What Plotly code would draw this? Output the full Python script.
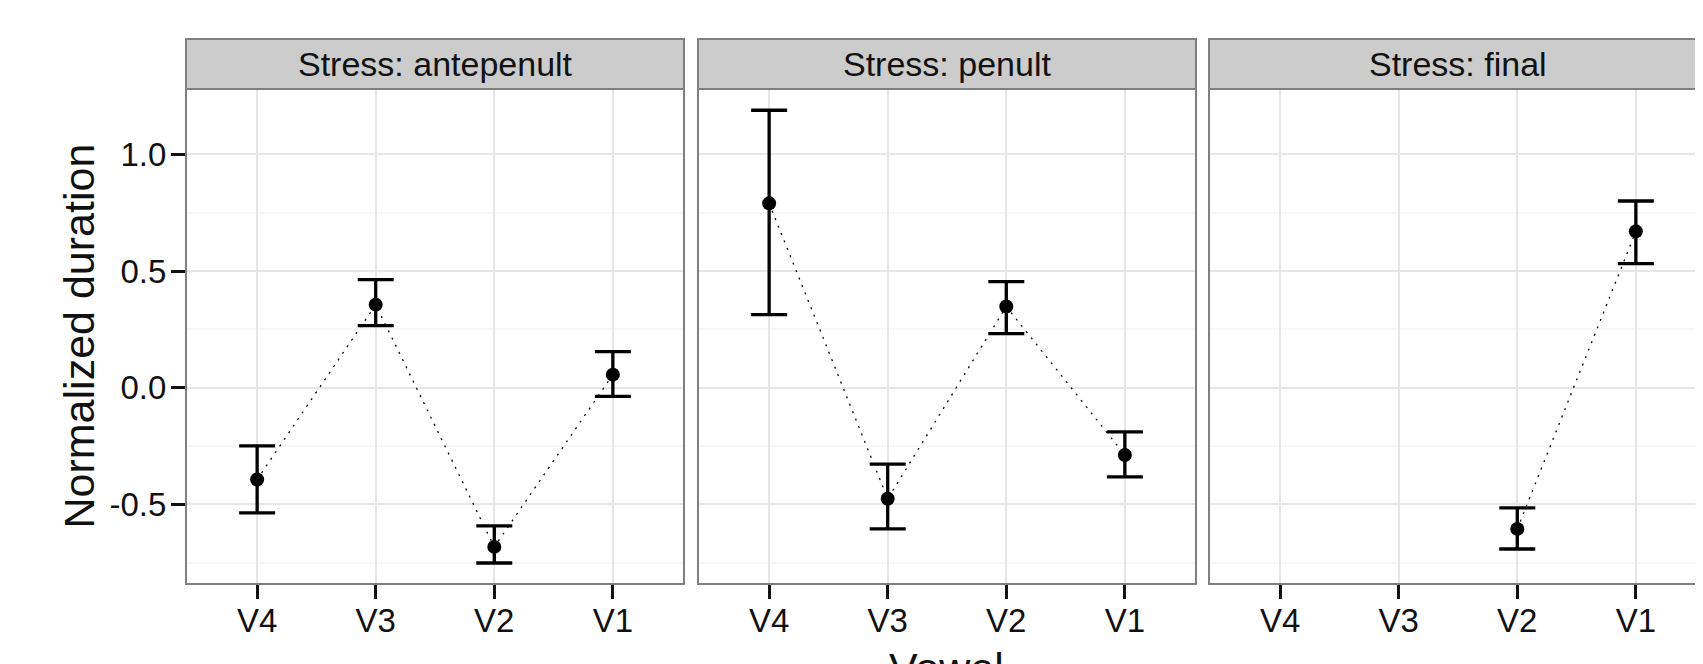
import plotly.graph_objects as go

# ---------------- data ----------------
vowels = ["V4", "V3", "V2", "V1"]
strip_labels = ["Stress: antepenult", "Stress: penult", "Stress: final"]

antepenult_mean = [-0.393, 0.356, -0.682, 0.056]
antepenult_upper = [-0.249, 0.463, -0.592, 0.155]
antepenult_lower = [-0.536, 0.266, -0.751, -0.037]

penult_mean = [0.790, -0.476, 0.348, -0.288]
penult_upper = [1.189, -0.327, 0.455, -0.189]
penult_lower = [0.313, -0.605, 0.232, -0.382]

final_mean = [None, None, -0.605, 0.670]
final_upper = [None, None, -0.515, 0.800]
final_lower = [None, None, -0.691, 0.532]

y_tick_values = [-0.5, 0.0, 0.5, 1.0]
y_tick_labels = ["-0.5", "0.0", "0.5", "1.0"]

x_title = "Vowel"
y_title = "Normalized duration"

# ---------------- layout constants (pixels, figure coords; page offset 8px) ----------------
OFF = 8
W, H = 1703 - OFF, 664 - OFF
ML = 186 - OFF
MT = 89 - OFF
PANEL_BOTTOM = 584 - OFF
MB = H - PANEL_BOTTOM
PW = W - ML
PH = H - MT - MB
panel_left_px = [186 - OFF, 698 - OFF, 1209 - OFF]
panel_w_px = 498
strip_top_px = 39 - OFF

FONT = "Liberation Sans"
GRID = "#E6E6E6"
MINOR = "#F7F7F7"
BORDER = "#7F7F7F"
INK = "#111111"

means = [antepenult_mean, penult_mean, final_mean]
uppers = [antepenult_upper, penult_upper, final_upper]
lowers = [antepenult_lower, penult_lower, final_lower]

x_index = list(range(len(vowels)))
units_per_px = 4.2 / panel_w_px

fig = go.Figure()
shapes = []
annotations = []

for i in range(3):
    m, u, lo = means[i], uppers[i], lowers[i]
    err_plus = [None if a is None else b - a for a, b in zip(m, u)]
    err_minus = [None if a is None else a - b for a, b in zip(m, lo)]
    xa = "x" if i == 0 else f"x{i+1}"
    ya = "y" if i == 0 else f"y{i+1}"
    # dotted connecting line
    fig.add_trace(go.Scatter(
        x=x_index, y=m, mode="lines", xaxis=xa, yaxis=ya,
        line=dict(color="black", width=1.3, dash="2px,6px"),
        showlegend=False, hoverinfo="skip"))
    # points + error bars
    fig.add_trace(go.Scatter(
        x=x_index, y=m, mode="markers", xaxis=xa, yaxis=ya,
        marker=dict(color="black", size=14),
        error_y=dict(type="data", symmetric=False, array=err_plus,
                     arrayminus=err_minus, color="black", thickness=3.3, width=18),
        showlegend=False))

    left = panel_left_px[i]
    d0 = (left - ML) / PW
    d1 = min(1.0, (left + panel_w_px - ML) / PW)
    visible_px = min(panel_w_px, W - left)
    xr = [-0.6, -0.6 + visible_px * units_per_px]

    axis_key = "xaxis" if i == 0 else f"xaxis{i+1}"
    yaxis_key = "yaxis" if i == 0 else f"yaxis{i+1}"
    fig.update_layout(**{
        axis_key: dict(
            domain=[d0, d1], anchor=ya, range=xr,
            tickmode="array", tickvals=x_index, ticktext=vowels,
            showgrid=True, gridcolor=GRID, gridwidth=1.5,
            zeroline=False, showline=False,
            ticks="outside", ticklen=14, tickwidth=3, tickcolor=INK,
            ticklabelstandoff=-7,
            tickfont=dict(family=FONT, size=33, color=INK),
            fixedrange=True),
        yaxis_key: dict(
            domain=[0, 1], anchor=xa,
            range=[-0.841, 1.280],
            tickmode="array", tickvals=y_tick_values, ticktext=y_tick_labels,
            showgrid=True, gridcolor=GRID, gridwidth=1.5,
            minor=dict(tickmode="array", tickvals=[-0.75, -0.25, 0.25, 0.75],
                       showgrid=True, gridcolor=MINOR, gridwidth=2, ticks=""),
            zeroline=False, showline=False,
            ticks="outside" if i == 0 else "", ticklen=14, tickwidth=3,
            tickcolor=INK,
            showticklabels=(i == 0), ticklabelstandoff=-2,
            tickfont=dict(family=FONT, size=33, color=INK),
            matches=None if i == 0 else "y",
            fixedrange=True),
    })

    x0p = (left - ML) / PW
    x1p = (left + panel_w_px - ML) / PW
    strip_top = (PANEL_BOTTOM - strip_top_px) / PH
    # panel border
    shapes.append(dict(type="rect", xref="paper", yref="paper",
                       x0=x0p, x1=x1p, y0=0, y1=1,
                       line=dict(color=BORDER, width=2), layer="above"))
    # strip
    shapes.append(dict(type="rect", xref="paper", yref="paper",
                       x0=x0p, x1=x1p, y0=1, y1=strip_top,
                       fillcolor="#CCCCCC",
                       line=dict(color=BORDER, width=2), layer="above"))
    annotations.append(dict(
        text=strip_labels[i], xref="paper", yref="paper",
        x=(x0p + x1p) / 2, y=(1 + strip_top) / 2,
        xanchor="center", yanchor="middle", showarrow=False,
        font=dict(family=FONT, size=34, color=INK)))

# axis titles
annotations.append(dict(
    text=y_title, xref="paper", yref="paper",
    x=(78 - OFF - ML) / PW, y=0.5, xanchor="center", yanchor="middle",
    textangle=-90, showarrow=False,
    font=dict(family=FONT, size=43, color=INK)))
annotations.append(dict(
    text=x_title, xref="paper", yref="paper",
    x=((panel_left_px[0] + panel_left_px[2] + panel_w_px) / 2 - ML) / PW,
    y=-((642 - OFF) - PANEL_BOTTOM) / PH, xanchor="center", yanchor="top",
    showarrow=False,
    font=dict(family=FONT, size=43, color=INK)))

fig.update_layout(
    width=W, height=H,
    margin=dict(l=ML, r=0, t=MT, b=MB, pad=0),
    paper_bgcolor="white", plot_bgcolor="white",
    shapes=shapes, annotations=annotations,
    showlegend=False,
    font=dict(family=FONT),
)

fig.write_html("out.html")
